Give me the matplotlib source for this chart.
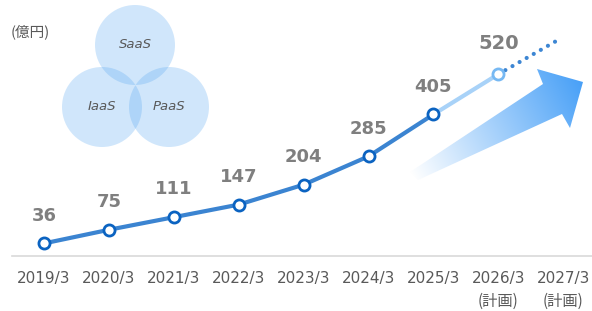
import numpy as np
import matplotlib

matplotlib.use("Agg")
import matplotlib.pyplot as plt
from matplotlib.patches import Circle, Polygon

plt.rcParams["font.family"] = ["DejaVu Sans", "Noto Sans CJK JP"]

years = ["2019/3", "2020/3", "2021/3", "2022/3", "2023/3",
         "2024/3", "2025/3", "2026/3", "2027/3"]
plan_note = ["", "", "", "", "", "", "", "(計画)", "(計画)"]
actual = [36, 75, 111, 147, 204, 285, 405]
plan = [405, 520]
trend_x = [7, 7.94]
trend_y = [520, 620]
venn_labels = ["SaaS", "IaaS", "PaaS"]

W, H = 592, 311
fig = plt.figure(figsize=(W / 100, H / 100), dpi=100)

# decorations in pixel coords (behind)
deco = fig.add_axes([0, 0, 1, 1])
deco.set_xlim(0, W)
deco.set_ylim(H, 0)
deco.set_axis_off()

circ = [(135, 45), (102, 107), (169, 107)]
for (cx, cy), lab in zip(circ, venn_labels):
    deco.add_patch(Circle((cx, cy), 40, facecolor="#4da2f0", alpha=0.26,
                          edgecolor="none"))
    deco.text(cx, cy, lab, ha="center", va="center", style="italic",
              fontsize=9.5, color="#595959")

# gradient arrow
pts = [(410, 172), (543, 84), (537, 69), (583, 82), (570, 128),
       (562, 114), (418, 180)]
poly = Polygon(pts, closed=True, facecolor="none", edgecolor="none")
deco.add_patch(poly)
x0, y0, x1, y1 = 405, 65, 588, 185
gx, gy = np.meshgrid(np.linspace(x0, x1, 300), np.linspace(y0, y1, 200))
p0 = np.array([412, 176.0])
p1 = np.array([583, 82.0])
d = p1 - p0
t = ((gx - p0[0]) * d[0] + (gy - p0[1]) * d[1]) / (d @ d)
t = np.clip(t, 0, 1)
c0 = np.array([1.0, 1.0, 1.0])
c1 = np.array([0x48, 0xa0, 0xf7]) / 255
img = c0[None, None, :] * (1 - t[..., None]) + c1[None, None, :] * t[..., None]
im = deco.imshow(img, extent=(x0, x1, y1, y0), origin="upper",
                 interpolation="bilinear")
im.set_clip_path(poly)

deco.text(30, 32, "(億円)", ha="center", va="center", fontsize=10.5,
          color="#595959", family=["Noto Sans CJK JP", "DejaVu Sans"])

# data axes
ax = fig.add_axes([0, 0, 1, 1])
ax.patch.set_alpha(0)
ax.set_xlim((0 - 44) / 64.9, (W - 44) / 64.9)
ax.set_ylim((256 - H) / 0.3496, 256 / 0.3496)
ax.set_axis_off()

xs = np.arange(len(years))
ax.plot([(12 - 44) / 64.9, (W - 44) / 64.9], [0, 0], color="#d9d9d9",
        lw=1.2, zorder=1)

ax.plot(trend_x, trend_y, color="#3d86d3", lw=3,
        linestyle=(0, (0.01, 1.95)), dash_capstyle="round", zorder=2)
ax.plot(xs[6:8], plan, color="#a8d2f8", lw=3, zorder=2,
        solid_capstyle="round")
ax.plot(xs[7], plan[1], "o", ms=8, mfc="white", mec="#77b9f3", mew=2,
        zorder=4)
ax.plot(xs[:7], actual, color="#3b84d1", lw=3, zorder=3,
        solid_capstyle="round")
ax.plot(xs[:7], actual, "o", ms=8, mfc="white", mec="#0b63c1", mew=2,
        zorder=5)

for i, v in enumerate(actual):
    ax.annotate(str(v), (xs[i], v), xytext=(0, 20), textcoords="offset points",
                ha="center", va="center", fontsize=13, fontweight="bold",
                color="#7f7f7f")
ax.annotate(str(plan[1]), (xs[7], plan[1]), xytext=(0, 22),
            textcoords="offset points", ha="center", va="center",
            fontsize=14, fontweight="bold", color="#7f7f7f")

for i, (lab, note) in enumerate(zip(years, plan_note)):
    ax.text(xs[i], (256 - 278) / 0.3496, lab, ha="center", va="center",
            fontsize=11, color="#595959")
    if note:
        ax.text(xs[i], (256 - 301) / 0.3496, note, ha="center", va="center",
                fontsize=11, color="#595959",
                family=["Noto Sans CJK JP", "DejaVu Sans"])

fig.savefig("out.png", dpi=100)
